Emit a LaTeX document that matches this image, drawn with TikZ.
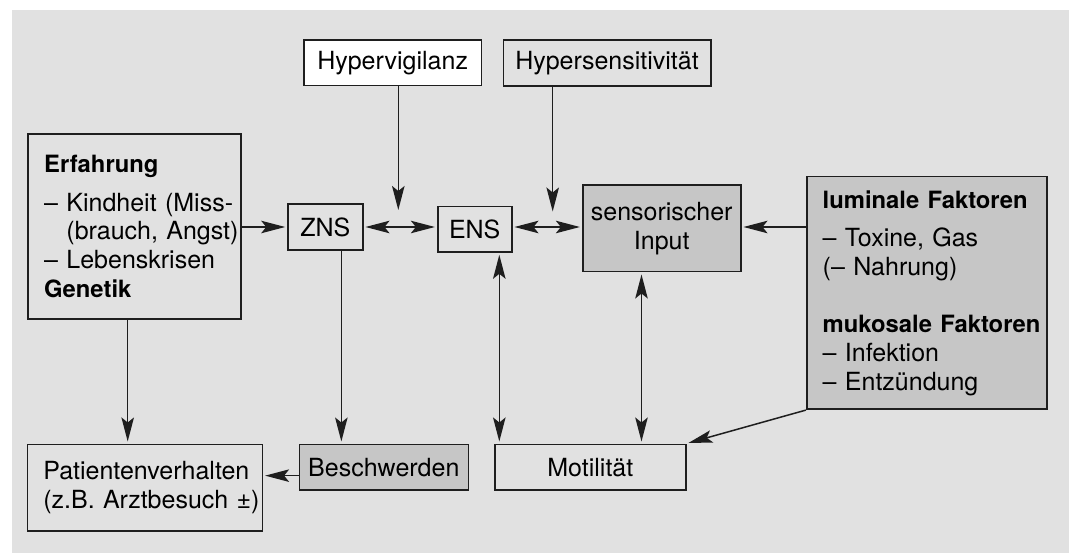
\documentclass[tikz,border=0pt]{standalone}
\usepackage{fontspec}
\setmainfont{TeX Gyre Heros}
\usetikzlibrary{arrows.meta}
\definecolor{hgGrau}{RGB}{225,225,225}
\definecolor{kastenGrau}{RGB}{198,198,198}
\definecolor{linie}{RGB}{30,30,30}
\newcommand\kopf[1]{\mbox{\fontsize{23.8}{28.7}\selectfont\bfseries #1}}
\tikzset{spitze/.tip={Stealth[length=24pt,width=12.5pt,inset=5pt]}}

\begin{document}
\begin{tikzpicture}[x=1pt,y=-1pt,
  font=\fontsize{25}{28.7}\selectfont,
  kasten/.style={draw=linie, line width=1.6pt, inner sep=0pt, align=center},
  textkasten/.style={kasten, align=left, inner xsep=16pt, inner ysep=0pt},
  pfeil/.style={draw=linie, line width=1.5pt, -{spitze}, shorten >=2pt},
  doppelpfeil/.style={pfeil, {spitze}-{spitze}, shorten <=2pt}]
% Hintergrund
\useasboundingbox (0,0) rectangle (1069,553);
\fill[hgGrau] (12,10) rectangle (1069,553);
% obere Reihe
\node[kasten, fill=white, minimum width=177.3, minimum height=45.7] (hypvig) at (392.65,62.85) {Hypervigilanz};
\node[kasten, minimum width=207.4, minimum height=46] (hypsens) at (607,63) {Hypersensitivität};
% mittlere Reihe
\node[textkasten, text width=181pt, minimum height=185.3] (erf) at (134.7,226.65)
  {\kopf{Erfahrung}\\[9.6pt]
   \mbox{– Kindheit (Miss-}\\
   \mbox{\phantom{– }(brauch, Angst)}\\
   \mbox{– Lebenskrisen}\\
   \kopf{Genetik}};
\node[kasten, minimum width=74.7, minimum height=46] (zns) at (325.35,227) {ZNS};
\node[kasten, minimum width=74, minimum height=45.3] (ens) at (474.7,229.35) {ENS};
\node[kasten, fill=kastenGrau, minimum width=158, minimum height=86.7] (sens) at (661.7,228.35) {sensorischer\\Input};
\node[textkasten, fill=kastenGrau, text width=208pt, minimum height=232.6] (lum) at (926.7,293)
  {\kopf{luminale Faktoren}\\[9.6pt]
   \mbox{– Toxine, Gas}\\
   \mbox{(– Nahrung)}\\[28.7pt]
   \kopf{mukosale Faktoren}\\
   \mbox{– Infektion}\\
   \mbox{– Entzündung}};
% untere Reihe
\node[textkasten, text width=203pt, minimum height=86.7] (pat) at (144.8,487.65)
  {\mbox{Patientenverhalten}\\\mbox{(z.B. Arztbesuch ±)}};
\node[kasten, fill=kastenGrau, minimum width=169, minimum height=45.7] (besch) at (383.8,467.15) {Beschwerden};
\node[kasten, minimum width=190.7, minimum height=45.7] (mot) at (590.35,467.15) {Motilität};
% Pfeile
\coordinate (vigspitze) at (398.3,212);
\coordinate (sensspitze) at (552.7,213.5);
\draw[pfeil] (hypvig.south -| vigspitze) -- (vigspitze);
\draw[pfeil] (hypsens.south -| sensspitze) -- (sensspitze);
\draw[pfeil] (erf.east |- zns.west) -- (zns.west);
\draw[doppelpfeil] (zns.east) -- (zns.east -| ens.west);
\draw[doppelpfeil] (ens.east |- zns.east) -- (sens.west |- zns.east);
\draw[pfeil] (lum.west |- zns.east) -- (sens.east |- zns.east);
\draw[pfeil] ([xshift=16pt]zns.south) -- ([xshift=16pt]zns.south |- besch.north);
\draw[pfeil] ([xshift=-7pt]erf.south) -- ([xshift=-7pt]erf.south |- pat.north);
\draw[pfeil] ([yshift=-8.5pt]besch.west) -- ([yshift=-8.5pt]besch.west -| pat.east);
\draw[doppelpfeil] ([xshift=24.6pt]ens.south) -- ([xshift=24.6pt]ens.south |- mot.north);
\draw[doppelpfeil] ([xshift=-20.2pt]sens.south) -- ([xshift=-20.2pt]sens.south |- mot.north);
\draw[pfeil] (lum.south west) -- (mot.north east);
\end{tikzpicture}
\end{document}
